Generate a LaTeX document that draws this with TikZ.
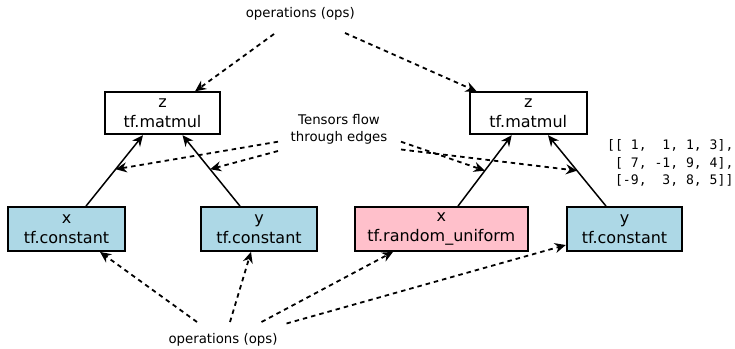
\documentclass[tikz,border=0pt]{standalone}
\usepackage{fontspec}
\setmainfont{DejaVu Sans}
\setmonofont{DejaVu Sans Mono}
\usetikzlibrary{arrows.meta,calc}
\definecolor{lightblue}{RGB}{173,216,230}
\definecolor{pinkfill}{RGB}{255,192,203}

\begin{document}
\begin{tikzpicture}[x=1pt,y=-1pt,
  opbox/.style={draw=black, line width=1.8pt, inner sep=0pt, align=center,
                font=\fontsize{16}{20.5}\selectfont},
  constbox/.style={opbox, fill=lightblue},
  flowedge/.style={-{Stealth[length=11pt,width=10pt]}, line width=1.5pt},
  hintedge/.style={-{Stealth[length=11pt,width=10pt]}, line width=1.8pt,
                   dash pattern=on 4.5pt off 4pt},
  note/.style={font=\fontsize{13.3}{16.5}\selectfont, align=center}]
\useasboundingbox (0,0) rectangle (735,348);

% left graph
\node[opbox, minimum width=115.7pt, minimum height=42pt] (lz) at (162.5,113.3) {z\\tf.matmul};
\node[constbox, minimum width=116.7pt, minimum height=44pt] (lx) at (66.5,229) {x\\tf.constant};
\node[constbox, minimum width=115.7pt, minimum height=44pt] (ly) at (259,229) {y\\tf.constant};

% right graph
\node[opbox, minimum width=116.7pt, minimum height=42pt] (rz) at (528.3,113.3) {z\\tf.matmul};
\node[opbox, fill=pinkfill, minimum width=172.7pt, minimum height=44pt] (rx) at (441.3,229) {x\\tf.random\_uniform};
\node[constbox, minimum width=115.6pt, minimum height=44pt] (ry) at (624.5,229) {y\\tf.constant};

% labels
\node[note] (opstop) at (300.3,14) {operations (ops)};
\node[note] (opsbot) at (223,340) {operations (ops)};
\node[note] (tflow) at (339,129.5) {Tensors flow\\through edges};
\node[anchor=west, align=left, inner sep=0pt,
      font=\ttfamily\fontsize{13.1}{17.2}\selectfont] (mat) at (607,163)
  {[[\ 1,\ \ 1,\ 1,\ 3],\\
   \hphantom{[}[\ 7,\ -1,\ 9,\ 4],\\
   \hphantom{[}[-9,\ \ 3,\ 8,\ 5]]};

% tensor edges
\draw[flowedge] ($(lx.north)+(19.5,0)$) -- coordinate[pos=0.52] (le1) ($(lz.south)+(-19.5,0)$);
\draw[flowedge] ($(ly.north)+(-19,0)$) -- coordinate[pos=0.52] (le2) ($(lz.south)+(20,0)$);
\draw[flowedge] ($(rx.north)+(16.7,0)$) -- coordinate[pos=0.5] (re1) ($(rz.south)+(-16.6,0)$);
\draw[flowedge] ($(ry.north)+(-18.5,0)$) -- coordinate[pos=0.5] (re2) ($(rz.south)+(19.7,0)$);

% pointers from the labels
\coordinate (t1) at (274,34);
\coordinate (t2) at (345,33);
\draw[hintedge] (t1) -- ($(lz.north)+(32.5,0)$);
\draw[hintedge] (t2) -- ($(rz.north)+(-51.6,0)$);

\coordinate (f1) at (278,141.7);
\coordinate (f2) at (278,151);
\coordinate (f3) at (401,141.7);
\coordinate (f4) at (401,149.5);
\draw[hintedge] (f1) -- (le1);
\draw[hintedge] (f2) -- (le2);
\draw[hintedge] (f3) -- (re1);
\draw[hintedge] (f4) -- (re2);

\coordinate (b1) at (197,322);
\coordinate (b2) at (230,322);
\coordinate (b3) at (261.5,322);
\coordinate (b4) at (286.5,323.5);
\draw[hintedge] (b1) -- ($(lx.south)+(33.5,0)$);
\draw[hintedge] (b2) -- ($(ly.south)+(-8,0)$);
\draw[hintedge] (b3) -- ($(rx.south)+(-48.3,0)$);
\draw[hintedge] (b4) -- ($(ry.west)+(0,16)$);
\end{tikzpicture}
\end{document}
